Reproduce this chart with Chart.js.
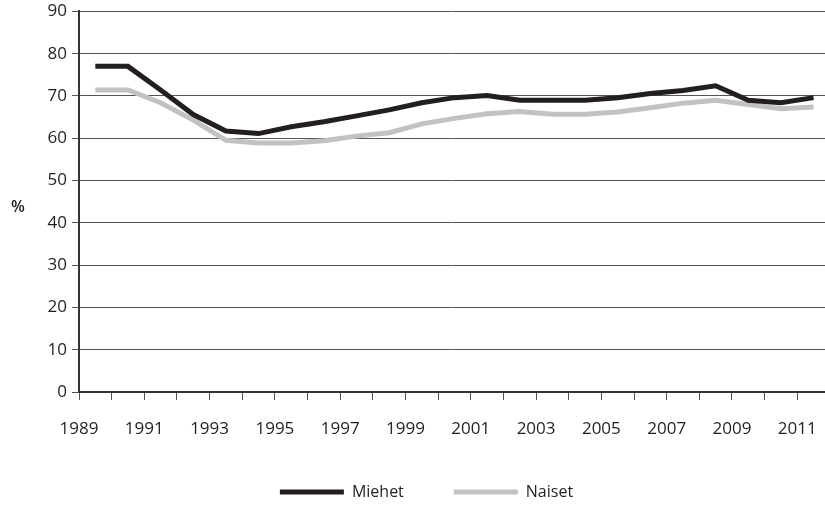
<!DOCTYPE html>
<html>
<head>
<meta charset="utf-8">
<script src="https://cdn.jsdelivr.net/npm/chart.js@4.4.1/dist/chart.umd.min.js"></script>
<style>
	body { margin: 0; background: #fff; }
	#kaavio { display: block; }
</style>
</head>
<body>
<canvas id="kaavio" width="825" height="505"></canvas>
<script>
// Vuodet ja sarjat (%), luettu kuvasta
var vuodet = [1989, 1990, 1991, 1992, 1993, 1994, 1995, 1996, 1997, 1998, 1999, 2000,
	2001, 2002, 2003, 2004, 2005, 2006, 2007, 2008, 2009, 2010, 2011];
var miehet = [77.0, 77.0, 71.4, 65.6, 61.7, 61.1, 62.7, 63.9, 65.3, 66.7, 68.4, 69.6,
	70.1, 69.0, 69.0, 69.0, 69.6, 70.6, 71.3, 72.4, 69.0, 68.4, 69.6];
var naiset = [71.4, 71.4, 68.4, 64.3, 59.5, 58.9, 58.9, 59.4, 60.5, 61.3, 63.4, 64.7,
	65.8, 66.3, 65.7, 65.7, 66.2, 67.2, 68.3, 69.0, 68.0, 67.0, 67.4];
var yTikit = [0, 10, 20, 30, 40, 50, 60, 70, 80, 90];

var tekstiVari = '#231f20';
var fontti = "'Open Sans', 'Noto Sans', sans-serif";

// pisteet vuoden keskelle, nimiöt vuoden alkuun (kuten alkuperäisessä)
function pisteet(arvot) {
	var p = [];
	for (var i = 0; i < vuodet.length; i++) {
		p.push({ x: vuodet[i] + 0.5, y: arvot[i] });
	}
	return p;
}

// "%"-otsikko vaakasuorana akselin vasemmalle puolelle
var prosenttiOtsikko = {
	id: 'prosenttiOtsikko',
	afterDraw: function (chart) {
		var ctx = chart.ctx;
		var y = (chart.chartArea.top + chart.chartArea.bottom) / 2 + 6;
		ctx.save();
		ctx.font = "600 16px " + fontti;
		ctx.fillStyle = tekstiVari;
		ctx.textAlign = 'center';
		ctx.textBaseline = 'middle';
		ctx.fillText('%', 18, y);
		ctx.restore();
	}
};

const data = {
	datasets: [{
		label: 'Miehet',
		data: pisteet(miehet),
		borderColor: '#231f20',
		backgroundColor: '#231f20',
		borderWidth: 5,
		pointRadius: 0,
		tension: 0
	}, {
		label: 'Naiset',
		data: pisteet(naiset),
		borderColor: '#c2c2c4',
		backgroundColor: '#c2c2c4',
		borderWidth: 5,
		pointRadius: 0,
		tension: 0
	}]
};

const config = {
	type: 'line',
	data: data,
	options: {
		responsive: false,
		animation: false,
		devicePixelRatio: 1,
		layout: { padding: { left: 28, right: 0, top: 0, bottom: 0 } },
		plugins: {
			tooltip: { enabled: false },
			legend: {
				position: 'bottom',
				maxHeight: 71,
				labels: {
					color: tekstiVari,
					font: { family: fontti, size: 16 },
					boxWidth: 64,
					boxHeight: 5,
					padding: 50,
					generateLabels: function (chart) {
						var items = Chart.defaults.plugins.legend.labels.generateLabels(chart);
						items.forEach(function (it) { it.lineWidth = 0; });
						return items;
					}
				}
			}
		},
		scales: {
			x: {
				type: 'linear',
				min: vuodet[0],
				max: 2011.85,
				afterBuildTicks: function (scale) {
					scale.ticks = vuodet.map(function (v) { return { value: v }; });
				},
				afterFit: function (scale) {
					scale.height = 42;
					scale.paddingRight = 0;
				},
				border: { color: '#333', width: 2 },
				grid: { drawOnChartArea: false, drawTicks: true, tickLength: 8, tickColor: '#555', tickWidth: 1 },
				ticks: {
					autoSkip: false,
					maxRotation: 0,
					padding: 22,
					color: tekstiVari,
					font: { family: fontti, size: 17, lineHeight: 0.8 },
					callback: function (v) { return (v - vuodet[0]) % 2 === 0 ? String(v) : ''; }
				}
			},
			y: {
				min: 0,
				max: 90,
				afterBuildTicks: function (scale) {
					scale.ticks = yTikit.map(function (v) { return { value: v }; });
				},
				afterFit: function (scale) { scale.width = 51; },
				border: { color: '#333', width: 2 },
				grid: { color: '#555', lineWidth: 1, drawTicks: true, tickLength: 7, tickColor: '#555' },
				ticks: {
					padding: 5,
					color: tekstiVari,
					font: { family: fontti, size: 17, lineHeight: 0.75 }
				}
			}
		}
	},
	plugins: [prosenttiOtsikko]
};

const myChart = new Chart(document.getElementById('kaavio'), config);
</script>
</body>
</html>
